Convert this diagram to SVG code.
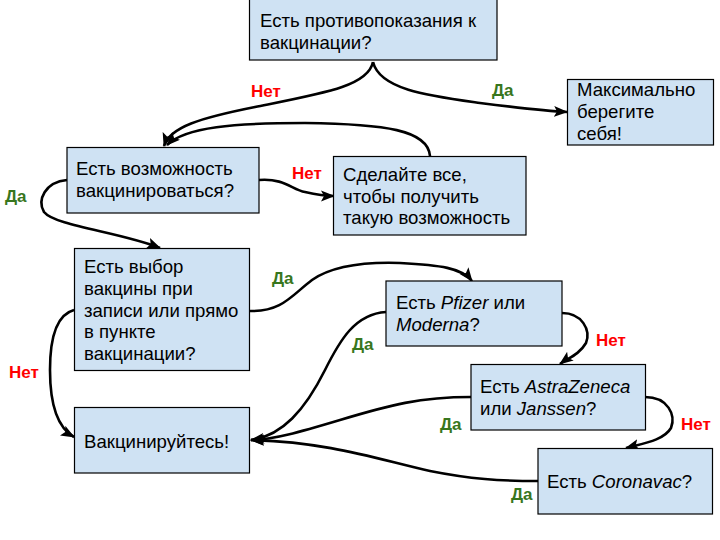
<svg xmlns="http://www.w3.org/2000/svg" width="720" height="540" viewBox="0 0 720 540">
<defs>
<style>
.box{fill:#cfe2f3;stroke:#000;stroke-width:1.2}
.t{font-family:"Liberation Sans",Arial,sans-serif;font-size:18.6px;fill:#000}
.c{fill:none;stroke:#000;stroke-width:2.6;marker-end:url(#ah)}
.no{font-family:"Liberation Sans",Arial,sans-serif;font-size:17px;font-weight:bold;fill:#ff0000}
.yes{font-family:"Liberation Sans",Arial,sans-serif;font-size:17px;font-weight:bold;fill:#38761d}
</style>
<marker id="ah" markerUnits="userSpaceOnUse" markerWidth="14" markerHeight="12" refX="13" refY="6" orient="auto">
<path d="M0,0.5 L14,6 L0,11.5 L3,6 z" fill="#000"/>
</marker>
</defs>
<rect width="720" height="540" fill="#fff"/>

<g id="connectors">
<path class="c" d="M373,62 C368,86 325,93 255,107 C200,118 170,127 164,146"/>
<path class="c" d="M373,62 C380,90 430,96 480,103 C520,108 545,111 567,112"/>
<path class="c" d="M430,156 C428,130 385,124 305,123 C235,123 185,127 167,145"/>
<path class="c" d="M259,180 C285,178 292,190 305,192 C318,195 325,196 334,196"/>
<path class="c" d="M67,180 C45,182 37,200 44,212 C55,226 120,232 160,248"/>
<path class="c" d="M74,310 C55,315 50,340 50,370 C50,405 58,428 74,437"/>
<path class="c" d="M250,311 C282,312 292,295 312,280 C335,264 370,262 400,263 C440,265 462,268 472,281"/>
<path class="c" d="M386,312 C355,314 340,340 325,370 C305,410 282,436 251,440"/>
<path class="c" d="M471,397 C420,397 390,405 340,420 C300,432 272,440 251,440"/>
<path class="c" d="M538,481 C500,481 470,479 430,471 C380,460 330,442 251,440"/>
<path class="c" d="M562,313 C582,313 591,330 586,343 C579,355 568,358 560,364"/>
<path class="c" d="M645,397 C668,397 676,415 671,428 C664,440 645,443 626,448"/>
<text class="no" x="251" y="97">Нет</text>
<text class="yes" x="492" y="96">Да</text>
<text class="no" x="292" y="179">Нет</text>
<text class="yes" x="5" y="202">Да</text>
<text class="no" x="9" y="378">Нет</text>
<text class="yes" x="272" y="284">Да</text>
<text class="yes" x="352" y="350">Да</text>
<text class="yes" x="440" y="430">Да</text>
<text class="no" x="596" y="346">Нет</text>
<text class="no" x="681" y="430">Нет</text>
<text class="yes" x="511" y="500">Да</text>
</g>

<g id="n_contra">
<rect class="box" x="249.5" y="-1" width="247.5" height="61"/>
<text class="t" x="260" y="27">Есть противопоказания к</text>
<text class="t" x="260" y="49">вакцинации?</text>
</g>
<g id="n_care">
<rect class="box" x="567.5" y="79.5" width="146" height="65.5"/>
<text class="t" x="577" y="96">Максимально</text>
<text class="t" x="577" y="118">берегите</text>
<text class="t" x="577" y="140">себя!</text>
</g>
<g id="n_possible">
<rect class="box" x="67" y="147.5" width="192" height="65.5"/>
<text class="t" x="76" y="175">Есть возможность</text>
<text class="t" x="76" y="197">вакцинироваться?</text>
</g>
<g id="n_doall">
<rect class="box" x="333.5" y="156.5" width="192.5" height="78.5"/>
<text class="t" x="343" y="181">Сделайте все,</text>
<text class="t" x="343" y="203">чтобы получить</text>
<text class="t" x="343" y="224">такую возможность</text>
</g>
<g id="n_choice">
<rect class="box" x="74.5" y="248.5" width="175" height="122"/>
<text class="t" x="84" y="273">Есть выбор</text>
<text class="t" x="84" y="295">вакцины при</text>
<text class="t" x="84" y="317">записи или прямо</text>
<text class="t" x="84" y="338">в пункте</text>
<text class="t" x="84" y="360">вакцинации?</text>
</g>
<g id="n_vaccinate">
<rect class="box" x="74.5" y="407.5" width="175" height="65.5"/>
<text class="t" x="84" y="448">Вакцинируйтесь!</text>
</g>
<g id="n_pfizer">
<rect class="box" x="386" y="281" width="176" height="65"/>
<text class="t" x="396" y="309">Есть <tspan font-style="italic">Pfizer</tspan> или</text>
<text class="t" x="396" y="331"><tspan font-style="italic">Moderna</tspan>?</text>
</g>
<g id="n_az">
<rect class="box" x="471" y="364.5" width="174.5" height="65.5"/>
<text class="t" x="480" y="393">Есть <tspan font-style="italic">AstraZeneca</tspan></text>
<text class="t" x="480" y="415">или <tspan font-style="italic">Janssen</tspan>?</text>
</g>
<g id="n_coronavac">
<rect class="box" x="538" y="448.5" width="174.5" height="65.5"/>
<text class="t" x="547" y="488">Есть <tspan font-style="italic">Coronavac</tspan>?</text>
</g>
</svg>
